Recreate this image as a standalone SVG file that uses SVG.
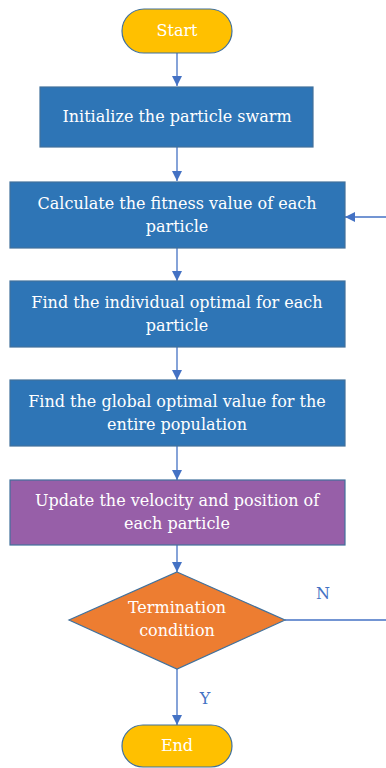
<svg xmlns="http://www.w3.org/2000/svg" width="386" height="768" viewBox="0 0 386 768">
<defs>
<style>
.t{font-family:"DejaVu Serif","Liberation Serif",serif;font-size:16px;fill:#ffffff;text-anchor:middle}
.lbl{font-family:"DejaVu Serif","Liberation Serif",serif;font-size:16px;fill:#4472C4;text-anchor:middle}
.c{stroke:#4472C4;stroke-width:1.3;fill:none}
.term{fill:#FFC000;stroke:#41719C;stroke-width:1.2}
.proc{fill:#2E75B6;stroke:#41719C;stroke-width:1.2}
</style>
<marker id="ah" viewBox="0 0 10 10" refX="10" refY="5" markerWidth="10" markerHeight="10" markerUnits="userSpaceOnUse" orient="auto">
<path d="M0,0 L10,5 L0,10 Z" fill="#4472C4"/>
</marker>
</defs>
<rect width="386" height="768" fill="#ffffff"/>
<g id="connectors">
<line class="c" x1="177" y1="53" x2="177" y2="86" marker-end="url(#ah)"/>
<line class="c" x1="177" y1="147" x2="177" y2="181" marker-end="url(#ah)"/>
<line class="c" x1="177" y1="248" x2="177" y2="281" marker-end="url(#ah)"/>
<line class="c" x1="177" y1="347" x2="177" y2="380" marker-end="url(#ah)"/>
<line class="c" x1="177" y1="446" x2="177" y2="480" marker-end="url(#ah)"/>
<line class="c" x1="177" y1="545" x2="177" y2="572" marker-end="url(#ah)"/>
<line class="c" x1="177" y1="669" x2="177" y2="725" marker-end="url(#ah)"/>
<line class="c" x1="285" y1="620" x2="386" y2="620"/>
<line class="c" x1="386" y1="217" x2="345" y2="217" marker-end="url(#ah)"/>
<text class="lbl" x="323" y="599">N</text>
<text class="lbl" x="205" y="704">Y</text>
</g>
<g id="start">
<rect class="term" x="122" y="9" width="110" height="44" rx="22"/>
<text class="t" x="177" y="36">Start</text>
</g>
<g id="init">
<rect class="proc" x="40" y="87" width="273" height="60"/>
<text class="t" x="177" y="122">Initialize the particle swarm</text>
</g>
<g id="fitness">
<rect class="proc" x="10" y="182" width="335" height="66"/>
<text class="t" x="177" y="209">Calculate the fitness value of each</text>
<text class="t" x="177" y="232">particle</text>
</g>
<g id="individual">
<rect class="proc" x="10" y="281" width="335" height="66"/>
<text class="t" x="177" y="308">Find the individual optimal for each</text>
<text class="t" x="177" y="331">particle</text>
</g>
<g id="global">
<rect class="proc" x="10" y="380" width="335" height="66"/>
<text class="t" x="177" y="407">Find the global optimal value for the</text>
<text class="t" x="177" y="430">entire population</text>
</g>
<g id="update">
<rect x="10" y="480" width="335" height="65" fill="#975FA8" stroke="#41719C" stroke-width="1.2"/>
<text class="t" x="177" y="506">Update the velocity and position of</text>
<text class="t" x="177" y="529">each particle</text>
</g>
<g id="decision">
<polygon points="177,572 285,620 177,669 69,620" fill="#ED7D31" stroke="#41719C" stroke-width="1.2"/>
<text class="t" x="177" y="613">Termination</text>
<text class="t" x="177" y="636">condition</text>
</g>
<g id="end">
<rect class="term" x="122" y="725" width="110" height="42" rx="21"/>
<text class="t" x="177" y="751">End</text>
</g>
</svg>
